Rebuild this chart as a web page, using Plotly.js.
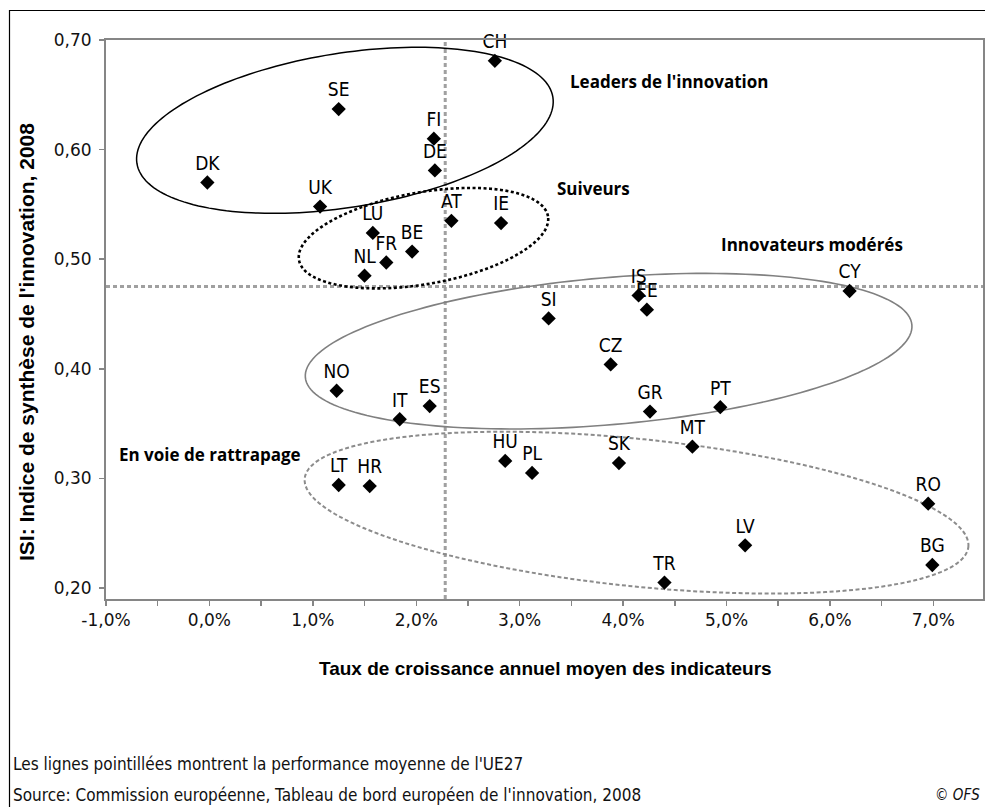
<!DOCTYPE html>
<html>
<head>
<meta charset="utf-8">
<script src="https://cdn.plot.ly/plotly-3.0.1.min.js"></script>
<style>
  html, body { margin: 0; padding: 0; background: #ffffff; }
  #chart { width: 985px; height: 807px; }
</style>
</head>
<body>
<div id="chart"></div>
<script>
// ---------- DATA ----------
const countries = ['CH','SE','FI','DE','DK','UK','LU','AT','IE','BE','FR','NL',
                   'IS','EE','SI','CY','CZ','NO','IT','ES','GR','PT',
                   'MT','HU','PL','SK','LT','HR','RO','LV','BG','TR'];
// Taux de croissance annuel moyen des indicateurs (%)
const growth = [2.76, 1.25, 2.17, 2.18, -0.02, 1.07, 1.58, 2.34, 2.82, 1.96, 1.71, 1.50,
                4.15, 4.23, 3.28, 6.19, 3.88, 1.23, 1.84, 2.13, 4.26, 4.94,
                4.67, 2.86, 3.12, 3.96, 1.25, 1.55, 6.95, 5.18, 6.99, 4.40];
// ISI: Indice de synthèse de l'innovation, 2008
const isi = [0.681, 0.637, 0.610, 0.581, 0.570, 0.548, 0.524, 0.535, 0.533, 0.507, 0.497, 0.485,
             0.467, 0.454, 0.446, 0.471, 0.404, 0.380, 0.354, 0.366, 0.361, 0.365,
             0.329, 0.316, 0.305, 0.314, 0.294, 0.293, 0.277, 0.239, 0.221, 0.205];
// Moyenne UE27
const euAvgGrowth = 2.28;
const euAvgISI = 0.475;

const xTickVals = [-1, 0, 1, 2, 3, 4, 5, 6, 7];
const xTickText = ['-1,0%', '0,0%', '1,0%', '2,0%', '3,0%', '4,0%', '5,0%', '6,0%', '7,0%'];
const yTickVals = [0.2, 0.3, 0.4, 0.5, 0.6, 0.7];
const yTickText = ['0,20', '0,30', '0,40', '0,50', '0,60', '0,70'];

const groupLabels = ["Leaders de l'innovation", 'Suiveurs', 'Innovateurs modérés', 'En voie de rattrapage'];

// ---------- LAYOUT GEOMETRY ----------
const W = 985, H = 807;
const M = {l: 106, r: 2, t: 40, b: 208};
const xRange = [-1, 7.48];
const yRange = [0.19, 0.70];
const plotW = W - M.l - M.r, plotH = H - M.t - M.b;
const kx = plotW / (xRange[1] - xRange[0]);   // px per unit x
const ky = plotH / (yRange[1] - yRange[0]);   // px per unit y
const pxX = px => (px - M.l) / plotW;          // page px -> paper x
const pxY = py => (M.t + plotH - py) / plotH;  // page px -> paper y

// Group ellipses (centre in data units, semi-axes in px, tilt in degrees)
const ellipses = [
  {cx: 1.31, cy: 0.6176, a: 210.6, b: 77.1, rot: 9.06, color: '#000000', width: 1.5, dash: 'solid'},
  {cx: 2.07, cy: 0.5192, a: 126.4, b: 45.9, rot: 9.98, color: '#000000', width: 2.6, dash: '3px,2.5px'},
  {cx: 3.86, cy: 0.4161, a: 304.4, b: 73.5, rot: 4.95, color: '#808080', width: 1.6, dash: 'solid'},
  {cx: 4.13, cy: 0.2688, a: 333.6, b: 73.7, rot: -5.89, color: '#8c8c8c', width: 2, dash: '4px,2.5px'}
];
function ellipsePath(e) {
  const th = e.rot * Math.PI / 180;
  const pts = [];
  for (let i = 0; i <= 180; i++) {
    const t = i / 180 * 2 * Math.PI;
    const dx = e.a * Math.cos(t) * Math.cos(th) - e.b * Math.sin(t) * Math.sin(th);
    const dy = e.a * Math.cos(t) * Math.sin(th) + e.b * Math.sin(t) * Math.cos(th);
    pts.push((e.cx + dx / kx).toFixed(5) + ',' + (e.cy + dy / ky).toFixed(5));
  }
  return 'M' + pts.join('L') + 'Z';
}

const shapes = ellipses.map(e => ({
  type: 'path', xref: 'x', yref: 'y', path: ellipsePath(e), layer: 'below',
  line: {color: e.color, width: e.width, dash: e.dash}
}));
// EU average reference lines
shapes.push({type: 'line', xref: 'x', yref: 'paper', x0: euAvgGrowth, x1: euAvgGrowth, y0: 0, y1: 1,
             layer: 'below', line: {color: '#a0a0a0', width: 3, dash: '4px,3px'}});
shapes.push({type: 'line', xref: 'paper', yref: 'y', x0: 0, x1: 1, y0: euAvgISI, y1: euAvgISI,
             layer: 'below', line: {color: '#a0a0a0', width: 3, dash: '4px,3px'}});
// outer frame (cropped figure)
shapes.push({type: 'rect', xref: 'paper', yref: 'paper', x0: pxX(9.5), x1: pxX(1200), y0: pxY(1000), y1: pxY(10.5),
             line: {color: '#000000', width: 1.2}, fillcolor: 'rgba(0,0,0,0)'});

const boldFont = {family: 'Open Sans, DejaVu Sans, sans-serif', size: 17, color: '#000000', weight: 700};
const noteFont = {family: 'Liberation Sans Narrow, DejaVu Sans Condensed, sans-serif', size: 17, color: '#111'};
const annotations = [
  {text: '<b>' + groupLabels[0] + '</b>', x: pxX(568), y: pxY(81), xanchor: 'left', yanchor: 'middle', font: boldFont},
  {text: '<b>' + groupLabels[1] + '</b>', x: pxX(555), y: pxY(189), xanchor: 'left', yanchor: 'middle', font: boldFont},
  {text: '<b>' + groupLabels[2] + '</b>', x: pxX(719), y: pxY(245), xanchor: 'left', yanchor: 'middle', font: boldFont},
  {text: '<b>' + groupLabels[3] + '</b>', x: pxX(117), y: pxY(454), xanchor: 'left', yanchor: 'middle', font: boldFont},
  // axis titles
  {text: '<b>Taux de croissance annuel moyen des indicateurs</b>', x: pxX(545), y: pxY(668),
   xanchor: 'center', yanchor: 'middle', font: {family: 'Liberation Sans, Arial, sans-serif', size: 19, color: '#000'}},
  {text: "<b>ISI: Indice de synthèse de l'innovation, 2008</b>", x: pxX(26), y: pxY(342), textangle: -90,
   xanchor: 'center', yanchor: 'middle', font: {family: 'Liberation Sans, Arial, sans-serif', size: 21, color: '#000'}},
  // notes
  {text: "Les lignes pointillées montrent la performance moyenne de l'UE27", x: pxX(11), y: pxY(764),
   xanchor: 'left', yanchor: 'middle', font: noteFont},
  {text: "Source: Commission européenne, Tableau de bord européen de l'innovation, 2008", x: pxX(11), y: pxY(795),
   xanchor: 'left', yanchor: 'middle', font: noteFont},
  {text: '<i>© OFS</i>', x: pxX(933), y: pxY(795), xanchor: 'left', yanchor: 'middle',
   font: {family: noteFont.family, size: 15, color: '#111'}}
].map(a => Object.assign({xref: 'paper', yref: 'paper', showarrow: false}, a));

const trace = {
  type: 'scatter', mode: 'markers+text',
  x: growth, y: isi, text: countries, textposition: 'top center',
  textfont: {family: 'Liberation Sans Narrow, DejaVu Sans Condensed, sans-serif', size: 19, color: '#000'},
  marker: {symbol: 'diamond', size: 11, color: '#000000'},
  cliponaxis: false, hoverinfo: 'x+y+text'
};

const axisCommon = {
  showgrid: false, zeroline: false, showline: true, mirror: true,
  linecolor: '#868686', linewidth: 2, ticks: 'outside', ticklen: 5, tickcolor: '#868686', tickwidth: 1.5,
  tickfont: {family: 'DejaVu Sans, sans-serif', size: 17, color: '#111'}, automargin: false
};

const layout = {
  width: W, height: H, margin: M, showlegend: false,
  paper_bgcolor: '#ffffff', plot_bgcolor: '#ffffff',
  xaxis: Object.assign({}, axisCommon, {
    range: xRange, tickmode: 'array', tickvals: xTickVals, ticktext: xTickText,
    minor: {dtick: 0.5, tick0: -1, ticks: 'outside', ticklen: 5, tickcolor: '#868686', tickwidth: 1.5, showgrid: false}
  }),
  yaxis: Object.assign({}, axisCommon, {
    range: yRange, tickmode: 'array', tickvals: yTickVals, ticktext: yTickText, ticklabelstandoff: 4
  }),
  shapes: shapes, annotations: annotations
};

Plotly.newPlot('chart', [trace], layout, {staticPlot: true, displayModeBar: false});
</script>
</body>
</html>
